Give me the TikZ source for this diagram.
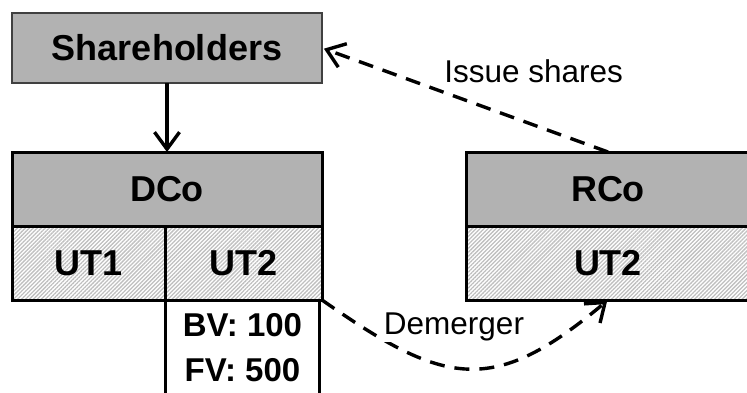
\documentclass[tikz,border=0pt]{standalone}
\usepackage{fontspec}
\setmainfont{Liberation Sans}
\usetikzlibrary{arrows.meta,positioning,patterns.meta}
\newcommand{\bigbf}{\fontsize{36}{40}\selectfont\bfseries}
\tikzset{
  holder/.style={rectangle, draw=black!75, line width=1.2pt, fill=black!30,
                 minimum width=310pt, minimum height=70pt, font=\bigbf, outer sep=0pt},
  cohead/.style={rectangle, draw, line width=3pt, fill=black!30,
                 minimum height=74pt, font=\bigbf, outer sep=0pt},
  unit/.style={rectangle, draw, line width=3pt, minimum height=74pt, font=\bigbf,
               pattern={Lines[angle=45,distance=2.8pt,line width=1.3pt]},
               pattern color=black!25, outer sep=0pt},
  vals/.style={rectangle, draw, line width=3pt, align=center, minimum width=154pt,
               minimum height=96pt, outer sep=0pt,
               font=\fontsize{33}{45}\selectfont\bfseries},
  fl/.style={-{Straight Barb[length=17pt,width=25pt]}, line width=3.4pt},
  dfl/.style={fl, dash pattern=on 15pt off 10pt},
  lbl/.style={font=\fontsize{31.5}{36}\selectfont, inner sep=1pt},
}

\begin{document}
\begin{tikzpicture}[x=1pt,y=1pt]
\useasboundingbox (0,0) rectangle (747,392);
\clip (0,0) rectangle (747,392);
% demerging company and its holders
\node[holder] (sh) at (167,344) {Shareholders};
\node[cohead, minimum width=310pt, below=69pt of sh] (dco) {DCo};
\node[unit, minimum width=153pt, below right=0pt and 0pt of dco.south west] (ut1) {UT1};
\node[unit, minimum width=157pt, right=0pt of ut1] (ut2) {UT2};
\node[vals, below=0pt of ut2, xshift=-1pt] (val) {BV: 100\\FV: 500};
% receiving company
\node[cohead, minimum width=284pt] (rco) at (608,203) {RCo};
\node[unit, minimum width=284pt, below=0pt of rco] (ut2r) {UT2};
\draw[fl] (sh) -- (dco);
\draw[dfl, shorten >=2pt] (rco.north) -- node[lbl, pos=0.26, yshift=54pt] (iss) {Issue shares} (sh.east);
\draw[dfl, shorten >=1pt] (ut2.south east) to[out=-35, in=-140, looseness=1.35]
  node[lbl, fill=white, xshift=-14pt, yshift=42pt] (dem) {Demerger} (ut2r.south);
\end{tikzpicture}
\end{document}
